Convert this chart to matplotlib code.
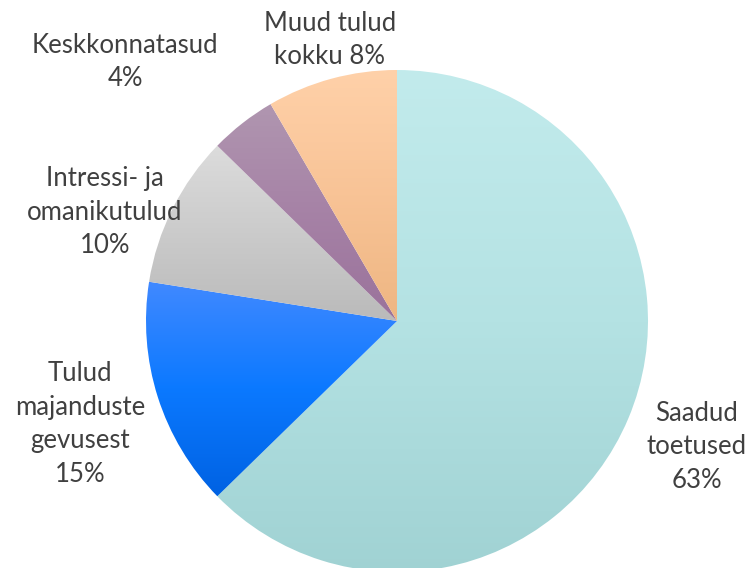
import numpy as np
import matplotlib.pyplot as plt
from matplotlib.colors import LinearSegmentedColormap

labels = ["Saadud\ntoetused\n63%", "Tulud\nmajanduste\ngevusest\n15%",
          "Intressi- ja\nomanikutulud\n10%", "Keskkonnatasud\n4%", "Muud tulud\nkokku 8%"]
values = [62.7, 14.8, 9.8, 4.3, 8.4]
top_colors = ["#c2ebec", "#4189ff", "#dcdcdc", "#b096b0", "#ffd1a9"]
mid_colors = ["#b4e2e3", "#0b79ff", "#cbcbcb", "#a682a6", "#f8c396"]
bottom_colors = ["#a0d2d3", "#0062e3", "#bababa", "#9a729b", "#eeb682"]
label_pos = [(697, 447), (80, 424), (105, 212), (125, 62), (330, 40)]

W, H = 751, 568
fig = plt.figure(figsize=(W / 100, H / 100), dpi=100)
ax = fig.add_axes([0, 0, 1, 1])

wedges, _ = ax.pie(values, startangle=90, counterclock=False,
                   center=(397, H - 321), radius=251,
                   wedgeprops=dict(linewidth=0))

grad = np.linspace(0, 1, 256).reshape(-1, 1)
for w, c1, cm, c2 in zip(wedges, top_colors, mid_colors, bottom_colors):
    w.set_facecolor("none")
    v = w.get_path().vertices
    x0, x1 = v[:, 0].min(), v[:, 0].max()
    y0, y1 = v[:, 1].min(), v[:, 1].max()
    cmap = LinearSegmentedColormap.from_list("g", [c2, cm, c1])
    im = ax.imshow(grad, cmap=cmap, extent=[x0, x1, y0, y1], origin="lower",
                   aspect="auto", interpolation="bilinear", zorder=1)
    im.set_clip_path(w)

for txt, (x, y) in zip(labels, label_pos):
    ax.text(x, H - y, txt, ha="center", va="center", fontsize=18.5,
            family="Lato", color="#404040", linespacing=1.42, multialignment="center")

ax.set_xlim(0, W)
ax.set_ylim(0, H)
ax.set_aspect("auto")
ax.axis("off")
fig.savefig("out.png", dpi=100)
